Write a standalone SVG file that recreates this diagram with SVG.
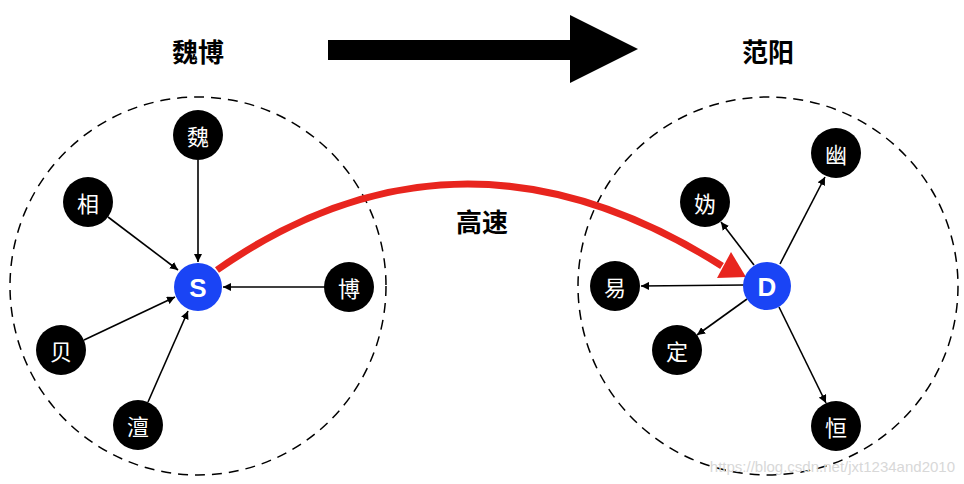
<svg xmlns="http://www.w3.org/2000/svg" width="964" height="484" viewBox="0 0 964 484">
<style>
.t{font-family:"Liberation Sans","Noto Sans CJK SC",sans-serif;}
.n circle{fill:#000}
.n text{fill:#fff;font-size:22px;text-anchor:middle;dominant-baseline:central;font-family:"Noto Sans CJK SC",sans-serif}
.h circle{fill:#1a44f5}
.h text{fill:#fff;font-size:26px;font-weight:bold;text-anchor:middle;dominant-baseline:central;font-family:"Liberation Sans",sans-serif}
.ring{fill:none;stroke:#000;stroke-width:1.5;stroke-dasharray:10 7}
.e{stroke:#000;stroke-width:1.6;fill:none;marker-end:url(#a)}
.ttl{font-size:26px;font-weight:bold;text-anchor:middle;font-family:"Noto Sans CJK SC",sans-serif}
</style>
<defs>
<marker id="a" viewBox="0 0 10 10" refX="10" refY="5" markerWidth="8" markerHeight="8" markerUnits="userSpaceOnUse" orient="auto"><path d="M0,0L10,5L0,10z" fill="#000"/></marker>
</defs>
<rect width="964" height="484" fill="#fff"/>
<ellipse class="ring" cx="198" cy="286" rx="188" ry="189"/>
<ellipse class="ring" cx="768" cy="286" rx="190" ry="189"/>
<text class="ttl" x="198" y="62">魏博</text>
<text class="ttl" x="768" y="62">范阳</text>
<path d="M328,40H570V15L638,49L570,83V60H328z" fill="#000"/>
<g id="connectors">
<line class="e" x1="198" y1="160" x2="198" y2="262"/>
<line class="e" x1="108" y1="217" x2="178" y2="270"/>
<line class="e" x1="84" y1="340" x2="175" y2="297"/>
<line class="e" x1="148" y1="402" x2="188" y2="311"/>
<line class="e" x1="325" y1="287" x2="223" y2="287"/>
<line class="e" x1="780" y1="264" x2="825" y2="177"/>
<line class="e" x1="754" y1="265" x2="721" y2="222"/>
<line class="e" x1="744" y1="285" x2="641" y2="286"/>
<line class="e" x1="747" y1="299" x2="697" y2="335"/>
<line class="e" x1="779" y1="307" x2="826" y2="403"/>
<path d="M217,270Q460,100 722,266" fill="none" stroke="#e8251e" stroke-width="7"/>
<path d="M746,277L717,278L731,252z" fill="#e8251e"/>
<text class="ttl" x="482" y="232" font-size="24">高速</text>
</g>
<g id="n-wei" class="n"><circle cx="198" cy="135" r="25"/><text x="198" y="135">魏</text></g>
<g id="n-xiang" class="n"><circle cx="88" cy="202" r="25"/><text x="88" y="202">相</text></g>
<g id="n-bei" class="n"><circle cx="61" cy="350" r="25"/><text x="61" y="350">贝</text></g>
<g id="n-chan" class="n"><circle cx="138" cy="425" r="25"/><text x="138" y="425">澶</text></g>
<g id="n-bo" class="n"><circle cx="349" cy="287" r="25"/><text x="349" y="287">博</text></g>
<g id="n-S" class="h"><circle cx="198" cy="287" r="24"/><text x="198" y="288">S</text></g>
<g id="n-you" class="n"><circle cx="836" cy="153" r="25"/><text x="836" y="153">幽</text></g>
<g id="n-gui" class="n"><circle cx="705" cy="202" r="25"/><text x="705" y="202">妫</text></g>
<g id="n-yi" class="n"><circle cx="615" cy="286" r="25"/><text x="615" y="286">易</text></g>
<g id="n-ding" class="n"><circle cx="677" cy="350" r="25"/><text x="677" y="350">定</text></g>
<g id="n-heng" class="n"><circle cx="836" cy="426" r="25"/><text x="836" y="426">恒</text></g>
<g id="n-D" class="h"><circle cx="767" cy="286" r="24"/><text x="767" y="287">D</text></g>
<text class="t" x="955" y="472" font-size="15" fill="#d8d8d8" text-anchor="end">https://blog.csdn.net/jxt1234and2010</text>
</svg>
